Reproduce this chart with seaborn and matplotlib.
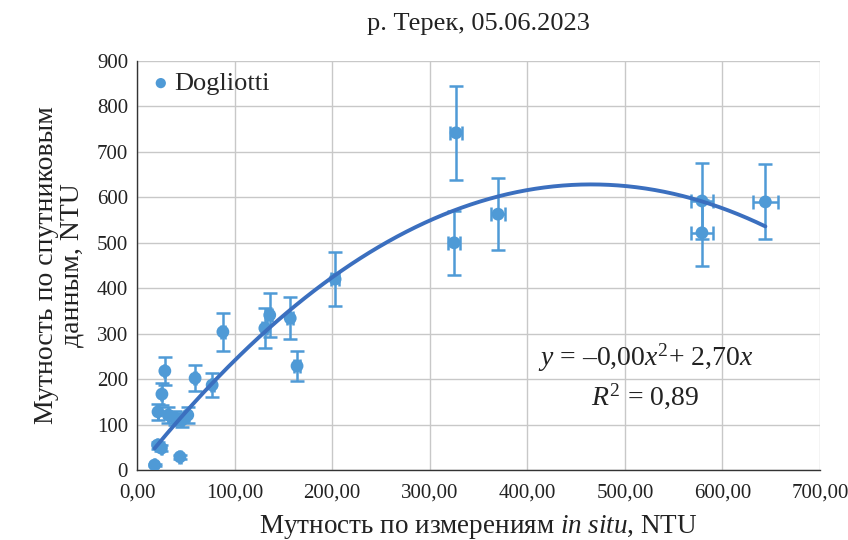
import numpy as np
import pandas as pd
import matplotlib
matplotlib.use('Agg')
import matplotlib.pyplot as plt
import seaborn as sns
from matplotlib.ticker import FuncFormatter

# точки: мутность in situ (x) и по спутниковым данным (y), NTU
x_insitu = [18, 21, 25, 44, 28.5, 25.5, 21.5, 32, 39, 46, 52, 59.5, 77, 88,
            131, 136, 157, 164, 203, 327, 325, 370, 579, 579, 644]
y_sat = [11, 55, 48, 29, 218, 167, 128, 121, 114, 110, 121, 202, 187, 304,
         312, 341, 334, 229, 420, 742, 500, 563, 592, 522, 590]
# погрешности (доли)
x_err_frac = 0.02
y_err_frac = 0.14
# коэффициенты тренда y = a*x^2 + b*x
coef_a = -0.0029
coef_b = 2.70

df = pd.DataFrame({'x': x_insitu, 'y': y_sat})

sns.set_style('white')
plt.rcParams['font.family'] = ['Liberation Serif', 'DejaVu Serif']
plt.rcParams['mathtext.fontset'] = 'custom'
plt.rcParams['mathtext.rm'] = 'Liberation Serif'
plt.rcParams['mathtext.it'] = 'Liberation Serif:italic'

pt_color = '#4f9ad6'
ln_color = '#3b6fbf'
txt = '#222222'

fig, ax = plt.subplots(figsize=(8.48, 5.4), dpi=100)
fig.subplots_adjust(left=0.1616, right=0.967, top=0.887, bottom=0.1296)

ax.errorbar(df.x, df.y, xerr=df.x * x_err_frac, yerr=df.y * y_err_frac,
            fmt='none', ecolor=pt_color, elinewidth=1.8, capsize=5, capthick=1.8, zorder=2)
sns.scatterplot(data=df, x='x', y='y', color=pt_color, s=85, edgecolor='none',
                label='Dogliotti', ax=ax, zorder=3)

xt = np.linspace(min(x_insitu), max(x_insitu), 200)
trend = pd.DataFrame({'x': xt, 'y': coef_a * xt**2 + coef_b * xt})
sns.lineplot(data=trend, x='x', y='y', color=ln_color, lw=2.8, ax=ax, zorder=4, legend=False)

ax.set_xlim(0, 700)
ax.set_ylim(0, 900)
ax.set_xticks(np.arange(0, 701, 100))
ax.set_yticks(np.arange(0, 901, 100))
ax.xaxis.set_major_formatter(FuncFormatter(lambda v, p: f'{v:.2f}'.replace('.', ',')))
ax.grid(True, color='#c8c8c8', lw=1.0)
ax.set_axisbelow(True)
for s in ['top', 'right']:
    ax.spines[s].set_visible(False)
for s in ['left', 'bottom']:
    ax.spines[s].set_color('#333333')
    ax.spines[s].set_linewidth(1.0)
ax.tick_params(axis='both', direction='inout', length=6, width=1, colors='#333333',
               labelsize=15, labelcolor=txt)
ax.tick_params(axis='x', pad=7)

ax.set_title('р. Терек, 05.06.2023', fontsize=19, pad=22, color=txt)
ax.set_xlabel(r'Мутность по измерениям $\mathit{in\ situ}$, NTU', fontsize=19.5,
              color=txt, labelpad=7)
ax.set_ylabel('Мутность по спутниковым\nданным, NTU', fontsize=20, color=txt,
              labelpad=9, linespacing=1.0)

ax.text(521, 246, r'$y$ = –0,00$x^2$+ 2,70$x$', fontsize=20, ha='center', va='center',
        color=txt)
ax.text(521, 163, r'$R^2$ = 0,89', fontsize=20, ha='center', va='center', color=txt)

leg = ax.legend(loc='upper left', frameon=False, fontsize=19, handletextpad=0.0,
                borderaxespad=0.0, handlelength=1.0, markerscale=0.8)

fig.savefig('out.png', dpi=100)
